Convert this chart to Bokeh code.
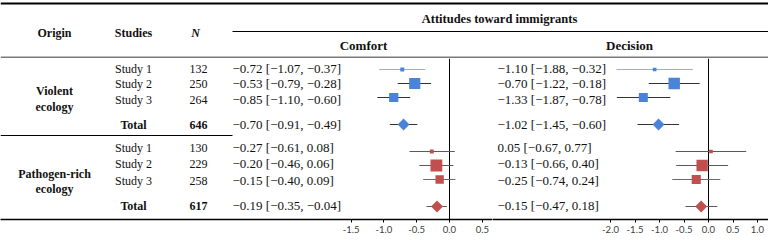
import numpy as np
from bokeh.plotting import figure
from bokeh.models import Range1d, LinearAxis, FixedTicker, NumeralTickFormatter
from bokeh.layouts import column, row
from bokeh.core.properties import value
from bokeh.embed import file_html
from bokeh.resources import INLINE

# ---------------- data ----------------
group_lines = [["Violent", "ecology"], ["Pathogen-rich", "ecology"]]
studies = ["Study 1", "Study 2", "Study 3", "Total"]
n_violent = [132, 250, 264, 646]
n_pathogen = [130, 229, 258, 617]

comfort_violent_est = [-0.72, -0.53, -0.85, -0.70]
comfort_violent_lo = [-1.07, -0.79, -1.10, -0.91]
comfort_violent_hi = [-0.37, -0.28, -0.60, -0.49]
comfort_pathogen_est = [-0.27, -0.20, -0.15, -0.19]
comfort_pathogen_lo = [-0.61, -0.46, -0.40, -0.35]
comfort_pathogen_hi = [0.08, 0.06, 0.09, -0.04]

decision_violent_est = [-1.10, -0.70, -1.33, -1.02]
decision_violent_lo = [-1.88, -1.22, -1.87, -1.45]
decision_violent_hi = [-0.32, -0.18, -0.78, -0.60]
decision_pathogen_est = [0.05, -0.13, -0.25, -0.15]
decision_pathogen_lo = [-0.67, -0.66, -0.74, -0.47]
decision_pathogen_hi = [0.77, 0.40, 0.24, 0.18]

# study weights (%)
comfort_violent_w = [7, 55, 38]
comfort_pathogen_w = [7, 62, 31]
decision_violent_w = [6, 58, 36]
decision_pathogen_w = [6, 57, 37]

comfort_ticks = [-1.5, -1.0, -0.5, 0.0, 0.5]
decision_ticks = [-2.0, -1.5, -1.0, -0.5, 0.0, 0.5, 1.0]

# ---------------- layout constants ----------------
W, H = 768, 241
HEAD_H = 58
AXIS_Y = 219
SPLIT = 492
C_ZERO, C_PX = 449.0, 65.6
D_ZERO, D_PX = 708.0, 49.0
TEXT_Y = [[68, 83, 99, 124], [147, 163, 180, 205]]
MARK_Y = [[69, 83, 97, 124], [151, 165, 179, 206]]
GROUP_LABEL_Y = [[90, 106], [173, 188]]
BLUE = "#4A84D9"
RED = "#C0504D"
SERIF = value("Liberation Serif")


def fmt(v):
    return f"{v:.2f}".replace("-", "\u2212")


def ci_text(est, lo, hi):
    return [f"{fmt(e)} [{fmt(a)}, {fmt(b)}]" for e, a, b in zip(est, lo, hi)]


def txt(p, xs, ys, texts, size="12px", align="center", style="normal", color="#111111"):
    p.text(x=xs, y=ys, text=texts, text_font=SERIF, text_font_size=value(size),
           text_font_style=value(style), text_align=value(align),
           text_baseline=value("middle"), text_color=color)


def base_fig(**kw):
    p = figure(output_backend="svg", toolbar_location=None,
               x_axis_location=None, y_axis_location=None,
               min_border_left=0, min_border_right=0, min_border_top=0,
               outline_line_color=None, background_fill_color="white",
               border_fill_color="white", **kw)
    p.xgrid.visible = False
    p.ygrid.visible = False
    return p


# ---------------- header ----------------
head = base_fig(width=W, height=HEAD_H, min_border_bottom=0,
                x_range=Range1d(0, W), y_range=Range1d(HEAD_H, 0))
head.segment(x0=[0], x1=[W], y0=[3], y1=[3], line_color="black", line_width=2)
head.segment(x0=[232], x1=[W], y0=[31], y1=[31], line_color="black", line_width=1)
head.segment(x0=[0], x1=[W], y0=[57], y1=[57], line_color="#7a7a7a", line_width=2)
txt(head, [54, 133], [32, 32], ["Origin", "Studies"], style="bold")
txt(head, [195], [32], ["N"], style="bold italic")
txt(head, [499], [18], ["Attitudes toward immigrants"], size="12.5px", style="bold")
txt(head, [363, 629], [45, 45], ["Comfort", "Decision"], size="13px", style="bold")


def body_fig(x0, x1, zero_px, px_unit, ticks):
    p = base_fig(frame_width=x1 - x0, frame_height=AXIS_Y - HEAD_H, min_border_bottom=22,
                 x_range=Range1d(x0, x1), y_range=Range1d(AXIS_Y, HEAD_H))
    p.extra_x_ranges = {"d": Range1d((x0 - zero_px) / px_unit, (x1 - zero_px) / px_unit)}
    ax = LinearAxis(x_range_name="d", ticker=FixedTicker(ticks=ticks),
                    formatter=NumeralTickFormatter(format="0.0"))
    ax.axis_line_color = "black"
    ax.axis_line_width = 1.5
    ax.major_tick_line_color = "black"
    ax.major_tick_out = 3
    ax.major_tick_in = 0
    ax.minor_tick_out = 0
    ax.minor_tick_in = 0
    ax.major_label_standoff = 3
    ax.major_label_text_font = "Lato"
    ax.major_label_text_font_size = "9.5px"
    ax.major_label_text_color = "#404040"
    p.add_layout(ax, "below")
    p.segment(x0=[0], x1=[0], y0=[HEAD_H], y1=[AXIS_Y], x_range_name="d",
              line_color="black", line_width=1)
    return p


def forest(p, est, lo, hi, w, ys, color, line_colors):
    p.segment(x0=lo, x1=hi, y0=ys, y1=ys, x_range_name="d",
              line_color=line_colors, line_width=1.2)
    sizes = [15 * np.sqrt(v / 100.0) for v in w]
    p.scatter(x=est[:3], y=ys[:3], size=sizes, marker="square", x_range_name="d",
              fill_color=color, line_color=None)
    p.scatter(x=[est[3]], y=[ys[3]], size=8.4, marker="square", angle=np.pi / 4,
              x_range_name="d", fill_color=color, line_color=None)


VIOLENT_LINES = ["#a3adbf", "#333333", "#333333", "#333333"]
PATHO_LINES = ["#5a5a5a", "#5a5a5a", "#6a6a6a", "#5a5a5a"]

# ---------------- left body (table + comfort) ----------------
left = body_fig(0, SPLIT, C_ZERO, C_PX, comfort_ticks)
left.segment(x0=[0], x1=[232], y0=[135], y1=[135], line_color="black", line_width=1)
for gi, (ns, est, lo, hi) in enumerate([
        (n_violent, comfort_violent_est, comfort_violent_lo, comfort_violent_hi),
        (n_pathogen, comfort_pathogen_est, comfort_pathogen_lo, comfort_pathogen_hi)]):
    ty = TEXT_Y[gi]
    txt(left, [54, 54], GROUP_LABEL_Y[gi], group_lines[gi], style="bold")
    txt(left, [133] * 3, ty[:3], studies[:3])
    txt(left, [133], ty[3:], studies[3:], style="bold")
    txt(left, [198] * 3, ty[:3], [str(v) for v in ns[:3]])
    txt(left, [198], ty[3:], [str(ns[3])], style="bold")
    txt(left, [232] * 4, ty, ci_text(est, lo, hi), size="13px", align="left")

forest(left, comfort_violent_est, comfort_violent_lo, comfort_violent_hi,
       comfort_violent_w, MARK_Y[0], BLUE, VIOLENT_LINES)
forest(left, comfort_pathogen_est, comfort_pathogen_lo, comfort_pathogen_hi,
       comfort_pathogen_w, MARK_Y[1], RED, PATHO_LINES)

# ---------------- right body (decision) ----------------
right = body_fig(SPLIT, W, D_ZERO, D_PX, decision_ticks)
txt(right, [497] * 4, TEXT_Y[0],
    ci_text(decision_violent_est, decision_violent_lo, decision_violent_hi), size="13px", align="left")
txt(right, [497] * 4, TEXT_Y[1],
    ci_text(decision_pathogen_est, decision_pathogen_lo, decision_pathogen_hi), size="13px", align="left")
forest(right, decision_violent_est, decision_violent_lo, decision_violent_hi,
       decision_violent_w, MARK_Y[0], BLUE, VIOLENT_LINES)
forest(right, decision_pathogen_est, decision_pathogen_lo, decision_pathogen_hi,
       decision_pathogen_w, MARK_Y[1], RED, PATHO_LINES)

layout = column(head, row(left, right, spacing=0), spacing=0)
open("out.html", "w").write(file_html(layout, INLINE))
